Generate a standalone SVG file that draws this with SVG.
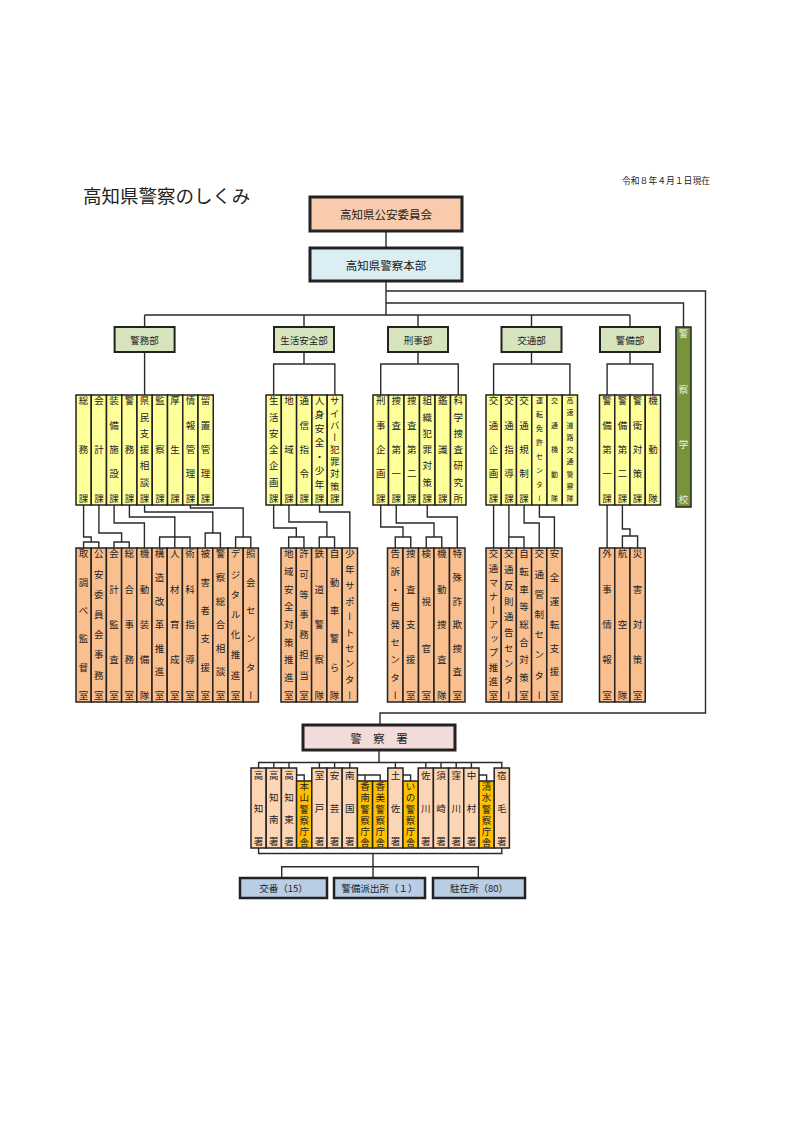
<svg xmlns="http://www.w3.org/2000/svg" width="800" height="1131" viewBox="0 0 800 1131">
<style>
text{font-family:"Noto Sans CJK JP","Noto Sans CJK SC",sans-serif;fill:#222}
.v{writing-mode:vertical-rl;font-size:9.5px}
.sm{font-size:7px}
.h{font-size:9.5px;text-anchor:middle;dominant-baseline:central}
.big{font-size:11.5px;text-anchor:middle;dominant-baseline:central}
.cn{fill:none;stroke:#2a2a2a;stroke-width:1.4}
.top1{fill:#F8CBAD;stroke:#222;stroke-width:3}
.top2{fill:#DAEEF3;stroke:#222;stroke-width:3}
.dp{fill:#D7E4BD;stroke:#222;stroke-width:2}
.y{fill:#FFFF99;stroke:#222;stroke-width:1.5}
.o{fill:#FABF8F;stroke:#222;stroke-width:1.5}
.so{fill:#FCD5B4;stroke:#222;stroke-width:1.5}
.sy{fill:#FFC000;stroke:#222;stroke-width:1.5}
.ps{fill:#F2DCDB;stroke:#222;stroke-width:3}
.bb{fill:#B9CDE5;stroke:#222;stroke-width:2.5}
.gs{fill:#77933C;stroke:#222;stroke-width:1.5}
</style>
<rect width="800" height="1131" fill="#fff"/>
<text x="83" y="203" style="font-size:18.5px">高知県警察のしくみ</text>
<text x="622" y="184" style="font-size:8.8px" textLength="88" lengthAdjust="spacing">令和８年４月１日現在</text>

<g id="connectors" class="cn">
<path d="M386,231V248M386,281V315M386,291H705.5V713H380V725M386,303H683.5V327"/>
<path d="M144.6,315H630M144.6,315V327M304,315V327M418,315V327M531.5,315V327M630,315V327"/>
<path d="M144.6,352V395M304,352V364M273.65,395V364H334.85V395M418,352V364M380.75,395V364H458.25V395M531.5,352V364M493.6,395V364H569.9V395M630,352V364M607.1,395V364H652.9V395"/>
<path d="M83.6,505V537H91.2V542M83.6,548V542H98.8V548M98.9,505V533H121.6V542M114,548V542H129.2V548M114.1,505V523H144.4V548M129.4,505V517H174.8V548M159.6,548V537H190V548M144.6,505V512H212.8V533M205.2,548V533H220.4V548M190.4,505V508H243.2V537M235.6,548V537H250.8V548"/>
<path d="M273.65,505V528H296.3V537M288.65,548V537H303.95V548M288.95,505V522H326.9V537M319.25,548V537H334.55V548M319.55,505V512H349.85V548"/>
<path d="M380.75,505V527H403V537M395.25,548V537H410.75V548M396.25,505V523H434V537M426.25,548V537H441.75V548M427.25,505V517H457.25V548"/>
<path d="M493.6,505V548M508.9,505V537M508.8,548V537H524V548M524.1,505V523H539.2V548M539.4,505V517H554.4V548"/>
<path d="M607.1,505V548M622.4,505V529H630V536M622.4,548V536H637.6V548"/>
<path d="M379,750V762.5M258.6,768V762.5H501.8V768M273.8,762.5V768M289,762.5V768M319.4,762.5V768M334.6,762.5V768M349.8,762.5V768M395.4,762.5V768M425.8,762.5V768M441,762.5V768M456.2,762.5V768M471.4,762.5V768"/>
<path d="M296.6,775H304.2V781M357.4,775H380.2V781M365,775V781M403,775H410.6V781M479,775H486.6V781"/>
<path d="M258.6,848V853.5H501.8V848M373,853.5V878M281.7,878V866.7H478.3V878"/>
</g>

<g id="koan"><rect class="top1" x="310" y="197" width="152" height="34"/><text class="big" x="386" y="214">高知県公安委員会</text></g>
<g id="honbu"><rect class="top2" x="310" y="248" width="152" height="33"/><text class="big" x="386" y="264.5">高知県警察本部</text></g>

<g id="d-keimu"><rect class="dp" x="114.6" y="327" width="60" height="25"/><text class="h" x="144.6" y="339.5">警務部</text></g>
<g id="d-seian"><rect class="dp" x="274" y="327" width="60" height="25"/><text class="h" x="304" y="339.5">生活安全部</text></g>
<g id="d-keiji"><rect class="dp" x="388" y="327" width="60" height="25"/><text class="h" x="418" y="339.5">刑事部</text></g>
<g id="d-kotsu"><rect class="dp" x="501.5" y="327" width="60" height="25"/><text class="h" x="531.5" y="339.5">交通部</text></g>
<g id="d-keibi"><rect class="dp" x="600" y="327" width="60" height="25"/><text class="h" x="630" y="339.5">警備部</text></g>
<g id="gakko"><rect class="gs" x="676" y="327" width="15" height="180"/><text class="v" x="683.5" y="329" textLength="175" lengthAdjust="spacing" style="fill:#EEF2E0">警察学校</text></g>

<!-- 警務部 課 -->
<g id="y-somu"><rect class="y" x="76" y="395" width="15.25" height="110"/><text class="v" x="83.6" y="396" textLength="107" lengthAdjust="spacing">総務課</text></g>
<g id="y-kaikei"><rect class="y" x="91.25" y="395" width="15.25" height="110"/><text class="v" x="98.9" y="396" textLength="107" lengthAdjust="spacing">会計課</text></g>
<g id="y-sobi"><rect class="y" x="106.5" y="395" width="15.25" height="110"/><text class="v" x="114.1" y="396" textLength="107" lengthAdjust="spacing">装備施設課</text></g>
<g id="y-keimu"><rect class="y" x="121.75" y="395" width="15.25" height="110"/><text class="v" x="129.4" y="396" textLength="107" lengthAdjust="spacing">警務課</text></g>
<g id="y-kenmin"><rect class="y" x="137" y="395" width="15.25" height="110"/><text class="v" x="144.6" y="396" textLength="107" lengthAdjust="spacing">県民支援相談課</text></g>
<g id="y-kansatsu"><rect class="y" x="152.25" y="395" width="15.25" height="110"/><text class="v" x="159.9" y="396" textLength="107" lengthAdjust="spacing">監察課</text></g>
<g id="y-kosei"><rect class="y" x="167.5" y="395" width="15.25" height="110"/><text class="v" x="175.1" y="396" textLength="107" lengthAdjust="spacing">厚生課</text></g>
<g id="y-joho"><rect class="y" x="182.75" y="395" width="15.25" height="110"/><text class="v" x="190.4" y="396" textLength="107" lengthAdjust="spacing">情報管理課</text></g>
<g id="y-ryuchi"><rect class="y" x="198" y="395" width="15.25" height="110"/><text class="v" x="205.6" y="396" textLength="107" lengthAdjust="spacing">留置管理課</text></g>

<!-- 警務部 室 -->
<g id="o-torishirabe"><rect class="o" x="76" y="548" width="15.2" height="154"/><text class="v" x="83.6" y="549" textLength="151" lengthAdjust="spacing">取調べ監督室</text></g>
<g id="o-koan"><rect class="o" x="91.2" y="548" width="15.2" height="154"/><text class="v" x="98.8" y="549" textLength="151" lengthAdjust="spacing">公安委員会事務室</text></g>
<g id="o-kansa"><rect class="o" x="106.4" y="548" width="15.2" height="154"/><text class="v" x="114" y="549" textLength="151" lengthAdjust="spacing">会計監査室</text></g>
<g id="o-sogo"><rect class="o" x="121.6" y="548" width="15.2" height="154"/><text class="v" x="129.2" y="549" textLength="151" lengthAdjust="spacing">総合事務室</text></g>
<g id="o-kidosobi"><rect class="o" x="136.8" y="548" width="15.2" height="154"/><text class="v" x="144.4" y="549" textLength="151" lengthAdjust="spacing">機動装備隊</text></g>
<g id="o-kozo"><rect class="o" x="152" y="548" width="15.2" height="154"/><text class="v" x="159.6" y="549" textLength="151" lengthAdjust="spacing">構造改革推進室</text></g>
<g id="o-jinzai"><rect class="o" x="167.2" y="548" width="15.2" height="154"/><text class="v" x="174.8" y="549" textLength="151" lengthAdjust="spacing">人材育成室</text></g>
<g id="o-jutsuka"><rect class="o" x="182.4" y="548" width="15.2" height="154"/><text class="v" x="190" y="549" textLength="151" lengthAdjust="spacing">術科指導室</text></g>
<g id="o-higaisha"><rect class="o" x="197.6" y="548" width="15.2" height="154"/><text class="v" x="205.2" y="549" textLength="151" lengthAdjust="spacing">被害者支援室</text></g>
<g id="o-sodan"><rect class="o" x="212.8" y="548" width="15.2" height="154"/><text class="v" x="220.4" y="549" textLength="151" lengthAdjust="spacing">警察総合相談室</text></g>
<g id="o-digital"><rect class="o" x="228" y="548" width="15.2" height="154"/><text class="v" x="235.6" y="549" textLength="151" lengthAdjust="spacing">デジタル化推進室</text></g>
<g id="o-shokai"><rect class="o" x="243.2" y="548" width="15.2" height="154"/><text class="v" x="250.8" y="549" textLength="151" lengthAdjust="spacing">照会センター</text></g>

<!-- 生活安全部 -->
<g id="y-seiankikaku"><rect class="y" x="266" y="395" width="15.3" height="110"/><text class="v" x="273.65" y="396" textLength="107" lengthAdjust="spacing">生活安全企画課</text></g>
<g id="y-chiiki"><rect class="y" x="281.3" y="395" width="15.3" height="110"/><text class="v" x="288.95" y="396" textLength="107" lengthAdjust="spacing">地域課</text></g>
<g id="y-tsushin"><rect class="y" x="296.6" y="395" width="15.3" height="110"/><text class="v" x="304.25" y="396" textLength="107" lengthAdjust="spacing">通信指令課</text></g>
<g id="y-jinshin"><rect class="y" x="311.9" y="395" width="15.3" height="110"/><text class="v" x="319.55" y="396" textLength="107" lengthAdjust="spacing">人身安全・少年課</text></g>
<g id="y-cyber"><rect class="y" x="327.2" y="395" width="15.3" height="110"/><text class="v" x="334.85" y="396" textLength="107" lengthAdjust="spacing">サイバー犯罪対策課</text></g>
<g id="o-chiikianzen"><rect class="o" x="281" y="548" width="15.3" height="154"/><text class="v" x="288.65" y="549" textLength="151" lengthAdjust="spacing">地域安全対策推進室</text></g>
<g id="o-kyoka"><rect class="o" x="296.3" y="548" width="15.3" height="154"/><text class="v" x="303.95" y="549" textLength="151" lengthAdjust="spacing">許可等事務担当室</text></g>
<g id="o-tetsudo"><rect class="o" x="311.6" y="548" width="15.3" height="154"/><text class="v" x="319.25" y="549" textLength="151" lengthAdjust="spacing">鉄道警察隊</text></g>
<g id="o-jidosha"><rect class="o" x="326.9" y="548" width="15.3" height="154"/><text class="v" x="334.55" y="549" textLength="151" lengthAdjust="spacing">自動車警ら隊</text></g>
<g id="o-shonen"><rect class="o" x="342.2" y="548" width="15.3" height="154"/><text class="v" x="349.85" y="549" textLength="151" lengthAdjust="spacing">少年サポートセンター</text></g>

<!-- 刑事部 -->
<g id="y-keijikikaku"><rect class="y" x="373" y="395" width="15.5" height="110"/><text class="v" x="380.75" y="396" textLength="107" lengthAdjust="spacing">刑事企画課</text></g>
<g id="y-sosa1"><rect class="y" x="388.5" y="395" width="15.5" height="110"/><text class="v" x="396.25" y="396" textLength="107" lengthAdjust="spacing">捜査第一課</text></g>
<g id="y-sosa2"><rect class="y" x="404" y="395" width="15.5" height="110"/><text class="v" x="411.75" y="396" textLength="107" lengthAdjust="spacing">捜査第二課</text></g>
<g id="y-soshiki"><rect class="y" x="419.5" y="395" width="15.5" height="110"/><text class="v" x="427.25" y="396" textLength="107" lengthAdjust="spacing">組織犯罪対策課</text></g>
<g id="y-kanshiki"><rect class="y" x="435" y="395" width="15.5" height="110"/><text class="v" x="442.75" y="396" textLength="107" lengthAdjust="spacing">鑑識課</text></g>
<g id="y-kaken"><rect class="y" x="450.5" y="395" width="15.5" height="110"/><text class="v" x="458.25" y="396" textLength="107" lengthAdjust="spacing">科学捜査研究所</text></g>
<g id="o-kokuso"><rect class="o" x="387.5" y="548" width="15.5" height="154"/><text class="v" x="395.25" y="549" textLength="151" lengthAdjust="spacing">告訴・告発センター</text></g>
<g id="o-sosashien"><rect class="o" x="403" y="548" width="15.5" height="154"/><text class="v" x="410.75" y="549" textLength="151" lengthAdjust="spacing">捜査支援室</text></g>
<g id="o-kenshi"><rect class="o" x="418.5" y="548" width="15.5" height="154"/><text class="v" x="426.25" y="549" textLength="151" lengthAdjust="spacing">検視官室</text></g>
<g id="o-kidososa"><rect class="o" x="434" y="548" width="15.5" height="154"/><text class="v" x="441.75" y="549" textLength="151" lengthAdjust="spacing">機動捜査隊</text></g>
<g id="o-tokusagi"><rect class="o" x="449.5" y="548" width="15.5" height="154"/><text class="v" x="457.25" y="549" textLength="151" lengthAdjust="spacing">特殊詐欺捜査室</text></g>

<!-- 交通部 -->
<g id="y-kotsukikaku"><rect class="y" x="486" y="395" width="15.25" height="110"/><text class="v" x="493.6" y="396" textLength="107" lengthAdjust="spacing">交通企画課</text></g>
<g id="y-kotsushido"><rect class="y" x="501.25" y="395" width="15.25" height="110"/><text class="v" x="508.9" y="396" textLength="107" lengthAdjust="spacing">交通指導課</text></g>
<g id="y-kotsukisei"><rect class="y" x="516.5" y="395" width="15.25" height="110"/><text class="v" x="524.1" y="396" textLength="107" lengthAdjust="spacing">交通規制課</text></g>
<g id="y-menkyo"><rect class="y" x="531.75" y="395" width="15.25" height="110"/><text class="v sm" x="539.4" y="397" textLength="105" lengthAdjust="spacing">運転免許センター</text></g>
<g id="y-kotsukido"><rect class="y" x="547" y="395" width="15.25" height="110"/><text class="v sm" x="554.6" y="397" textLength="105" lengthAdjust="spacing">交通機動隊</text></g>
<g id="y-kosoku"><rect class="y" x="562.25" y="395" width="15.25" height="110"/><text class="v sm" x="569.9" y="397" textLength="105" lengthAdjust="spacing">高速道路交通警察隊</text></g>
<g id="o-manner"><rect class="o" x="486" y="548" width="15.2" height="154"/><text class="v" x="493.6" y="549" textLength="151" lengthAdjust="spacing">交通マナーアップ推進室</text></g>
<g id="o-hansoku"><rect class="o" x="501.2" y="548" width="15.2" height="154"/><text class="v" x="508.8" y="549" textLength="151" lengthAdjust="spacing">交通反則通告センター</text></g>
<g id="o-jitensha"><rect class="o" x="516.4" y="548" width="15.2" height="154"/><text class="v" x="524" y="549" textLength="151" lengthAdjust="spacing">自転車等総合対策室</text></g>
<g id="o-kansei"><rect class="o" x="531.6" y="548" width="15.2" height="154"/><text class="v" x="539.2" y="549" textLength="151" lengthAdjust="spacing">交通管制センター</text></g>
<g id="o-anzen"><rect class="o" x="546.8" y="548" width="15.2" height="154"/><text class="v" x="554.4" y="549" textLength="151" lengthAdjust="spacing">安全運転支援室</text></g>

<!-- 警備部 -->
<g id="y-keibi1"><rect class="y" x="599.5" y="395" width="15.25" height="110"/><text class="v" x="607.1" y="396" textLength="107" lengthAdjust="spacing">警備第一課</text></g>
<g id="y-keibi2"><rect class="y" x="614.75" y="395" width="15.25" height="110"/><text class="v" x="622.4" y="396" textLength="107" lengthAdjust="spacing">警備第二課</text></g>
<g id="y-keiei"><rect class="y" x="630" y="395" width="15.25" height="110"/><text class="v" x="637.6" y="396" textLength="107" lengthAdjust="spacing">警衛対策課</text></g>
<g id="y-kidotai"><rect class="y" x="645.25" y="395" width="15.25" height="110"/><text class="v" x="652.9" y="396" textLength="107" lengthAdjust="spacing">機動隊</text></g>
<g id="o-gaiji"><rect class="o" x="599.5" y="548" width="15.25" height="154"/><text class="v" x="607.1" y="549" textLength="151" lengthAdjust="spacing">外事情報室</text></g>
<g id="o-koku"><rect class="o" x="614.75" y="548" width="15.25" height="154"/><text class="v" x="622.4" y="549" textLength="151" lengthAdjust="spacing">航空隊</text></g>
<g id="o-saigai"><rect class="o" x="630" y="548" width="15.25" height="154"/><text class="v" x="637.6" y="549" textLength="151" lengthAdjust="spacing">災害対策室</text></g>

<!-- 警察署 -->
<g id="keisatsusho"><rect class="ps" x="303" y="725" width="152" height="25"/><text class="big" x="379" y="737.5">警　察　署</text></g>
<g id="s-kochi"><rect class="so" x="251" y="768" width="15.2" height="80"/><text class="v" x="258.6" y="770.5" textLength="76" lengthAdjust="spacing">高知署</text></g>
<g id="s-kochiminami"><rect class="so" x="266.2" y="768" width="15.2" height="80"/><text class="v" x="273.8" y="770.5" textLength="76" lengthAdjust="spacing">高知南署</text></g>
<g id="s-kochihigashi"><rect class="so" x="281.4" y="768" width="15.2" height="80"/><text class="v" x="289" y="770.5" textLength="76" lengthAdjust="spacing">高知東署</text></g>
<g id="s-motoyama"><rect class="sy" x="296.6" y="781" width="15.2" height="67"/><text class="v" x="304.2" y="782" textLength="65" lengthAdjust="spacing">本山警察庁舎</text></g>
<g id="s-muroto"><rect class="so" x="311.8" y="768" width="15.2" height="80"/><text class="v" x="319.4" y="770.5" textLength="76" lengthAdjust="spacing">室戸署</text></g>
<g id="s-aki"><rect class="so" x="327" y="768" width="15.2" height="80"/><text class="v" x="334.6" y="770.5" textLength="76" lengthAdjust="spacing">安芸署</text></g>
<g id="s-nankoku"><rect class="so" x="342.2" y="768" width="15.2" height="80"/><text class="v" x="349.8" y="770.5" textLength="76" lengthAdjust="spacing">南国署</text></g>
<g id="s-konan"><rect class="sy" x="357.4" y="781" width="15.2" height="67"/><text class="v" x="365" y="782" textLength="65" lengthAdjust="spacing">香南警察庁舎</text></g>
<g id="s-kami"><rect class="sy" x="372.6" y="781" width="15.2" height="67"/><text class="v" x="380.2" y="782" textLength="65" lengthAdjust="spacing">香美警察庁舎</text></g>
<g id="s-tosa"><rect class="so" x="387.8" y="768" width="15.2" height="80"/><text class="v" x="395.4" y="770.5" textLength="76" lengthAdjust="spacing">土佐署</text></g>
<g id="s-ino"><rect class="sy" x="403" y="781" width="15.2" height="67"/><text class="v" x="410.6" y="782" textLength="65" lengthAdjust="spacing">いの警察庁舎</text></g>
<g id="s-sakawa"><rect class="so" x="418.2" y="768" width="15.2" height="80"/><text class="v" x="425.8" y="770.5" textLength="76" lengthAdjust="spacing">佐川署</text></g>
<g id="s-susaki"><rect class="so" x="433.4" y="768" width="15.2" height="80"/><text class="v" x="441" y="770.5" textLength="76" lengthAdjust="spacing">須崎署</text></g>
<g id="s-kubokawa"><rect class="so" x="448.6" y="768" width="15.2" height="80"/><text class="v" x="456.2" y="770.5" textLength="76" lengthAdjust="spacing">窪川署</text></g>
<g id="s-nakamura"><rect class="so" x="463.8" y="768" width="15.2" height="80"/><text class="v" x="471.4" y="770.5" textLength="76" lengthAdjust="spacing">中村署</text></g>
<g id="s-shimizu"><rect class="sy" x="479" y="781" width="15.2" height="67"/><text class="v" x="486.6" y="782" textLength="65" lengthAdjust="spacing">清水警察庁舎</text></g>
<g id="s-sukumo"><rect class="so" x="494.2" y="768" width="15.2" height="80"/><text class="v" x="501.8" y="770.5" textLength="76" lengthAdjust="spacing">宿毛署</text></g>

<g id="koban"><rect class="bb" x="240" y="878" width="87" height="20"/><text class="h" x="283.5" y="888">交番（15）</text></g>
<g id="hashutsujo"><rect class="bb" x="334" y="878" width="91" height="20"/><text class="h" x="379.5" y="888">警備派出所（１）</text></g>
<g id="chuzaisho"><rect class="bb" x="433" y="878" width="92" height="20"/><text class="h" x="479" y="888">駐在所（80）</text></g>
</svg>
